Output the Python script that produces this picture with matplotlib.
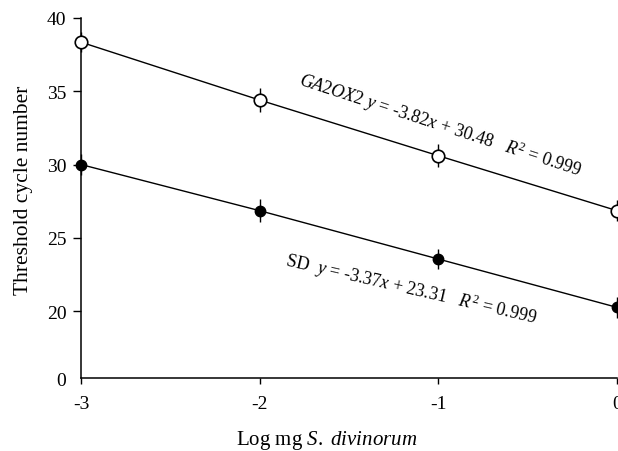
import matplotlib.pyplot as plt

plt.rcParams['font.family'] = ['Liberation Serif', 'DejaVu Serif']
plt.rcParams['mathtext.fontset'] = 'custom'
plt.rcParams['mathtext.rm'] = 'Liberation Serif'
plt.rcParams['mathtext.it'] = 'Liberation Serif:italic'

# log amount of S. divinorum and threshold cycle values
log_mg = [-3, -2, -1, 0]
ga2ox2_ct = [38.35, 34.4, 30.6, 26.85]
ga2ox2_err = [0.7, 0.8, 0.8, 0.7]
sd_ct = [30.0, 26.85, 23.55, 20.25]
sd_err = [0.7, 0.8, 0.7, 0.7]

# broken y axis: bottom of the axis is labelled 0
y_bottom = 15.43
y_ticks = [y_bottom, 20, 25, 30, 35, 40]
y_tick_labels = ['0', '20', '25', '30', '35', '40']
x_ticks = [-3, -2, -1, 0]

fig = plt.figure(figsize=(6.18, 4.52), dpi=100)
ax = fig.add_axes([0.131, 0.1615, 0.8674, 0.7965])

# upper series: open circles
ax.plot(log_mg, ga2ox2_ct, color='black', lw=1, zorder=2)
ax.errorbar(log_mg, ga2ox2_ct, yerr=ga2ox2_err, fmt='o', ms=9, mfc='white',
            mec='black', mew=1.2, ecolor='black', elinewidth=1, capsize=0,
            zorder=3, clip_on=False)

# lower series: filled circles
ax.plot(log_mg, sd_ct, color='black', lw=1, zorder=2)
ax.errorbar(log_mg, sd_ct, yerr=sd_err, fmt='o', ms=7.5, mfc='black',
            mec='black', ecolor='black', elinewidth=1, capsize=0,
            zorder=3, clip_on=False)

ax.text(-0.99, 32.75,
        r'$GA2OX2\ y$ = -3.82$x$ + 30.48   $R^2$ = 0.999',
        rotation=-18, rotation_mode='anchor', ha='center', va='center',
        fontsize=13)
ax.text(-1.15, 21.5,
        r'SD  $y$ = -3.37$x$ + 23.31   $R^2$ = 0.999',
        rotation=-13, rotation_mode='anchor', ha='center', va='center',
        fontsize=13)

ax.set_xlim(-3, 0)
ax.set_ylim(y_bottom, 40)
ax.set_xticks(x_ticks)
ax.set_xticklabels(['-3', '-2', '-1', '0'])
ax.set_yticks(y_ticks)
ax.set_yticklabels(y_tick_labels)
ax.yaxis.get_major_ticks()[0].tick1line.set_visible(False)

ax.tick_params(axis='x', direction='out', length=4.5, width=1, pad=8, labelsize=14)
ax.tick_params(axis='y', direction='out', length=5.5, width=1, pad=5, labelsize=14)

for side in ['top', 'right']:
    ax.spines[side].set_visible(False)
for side in ['left', 'bottom']:
    ax.spines[side].set_linewidth(1.1)

ax.set_xlabel(r'Log mg $S.\ divinorum$', fontsize=15)
ax.xaxis.set_label_coords(0.458, -0.14)
ax.set_ylabel('Threshold cycle number', fontsize=15.5)
ax.yaxis.set_label_coords(-0.09, 0.525)

fig.savefig('out.png', dpi=100)
